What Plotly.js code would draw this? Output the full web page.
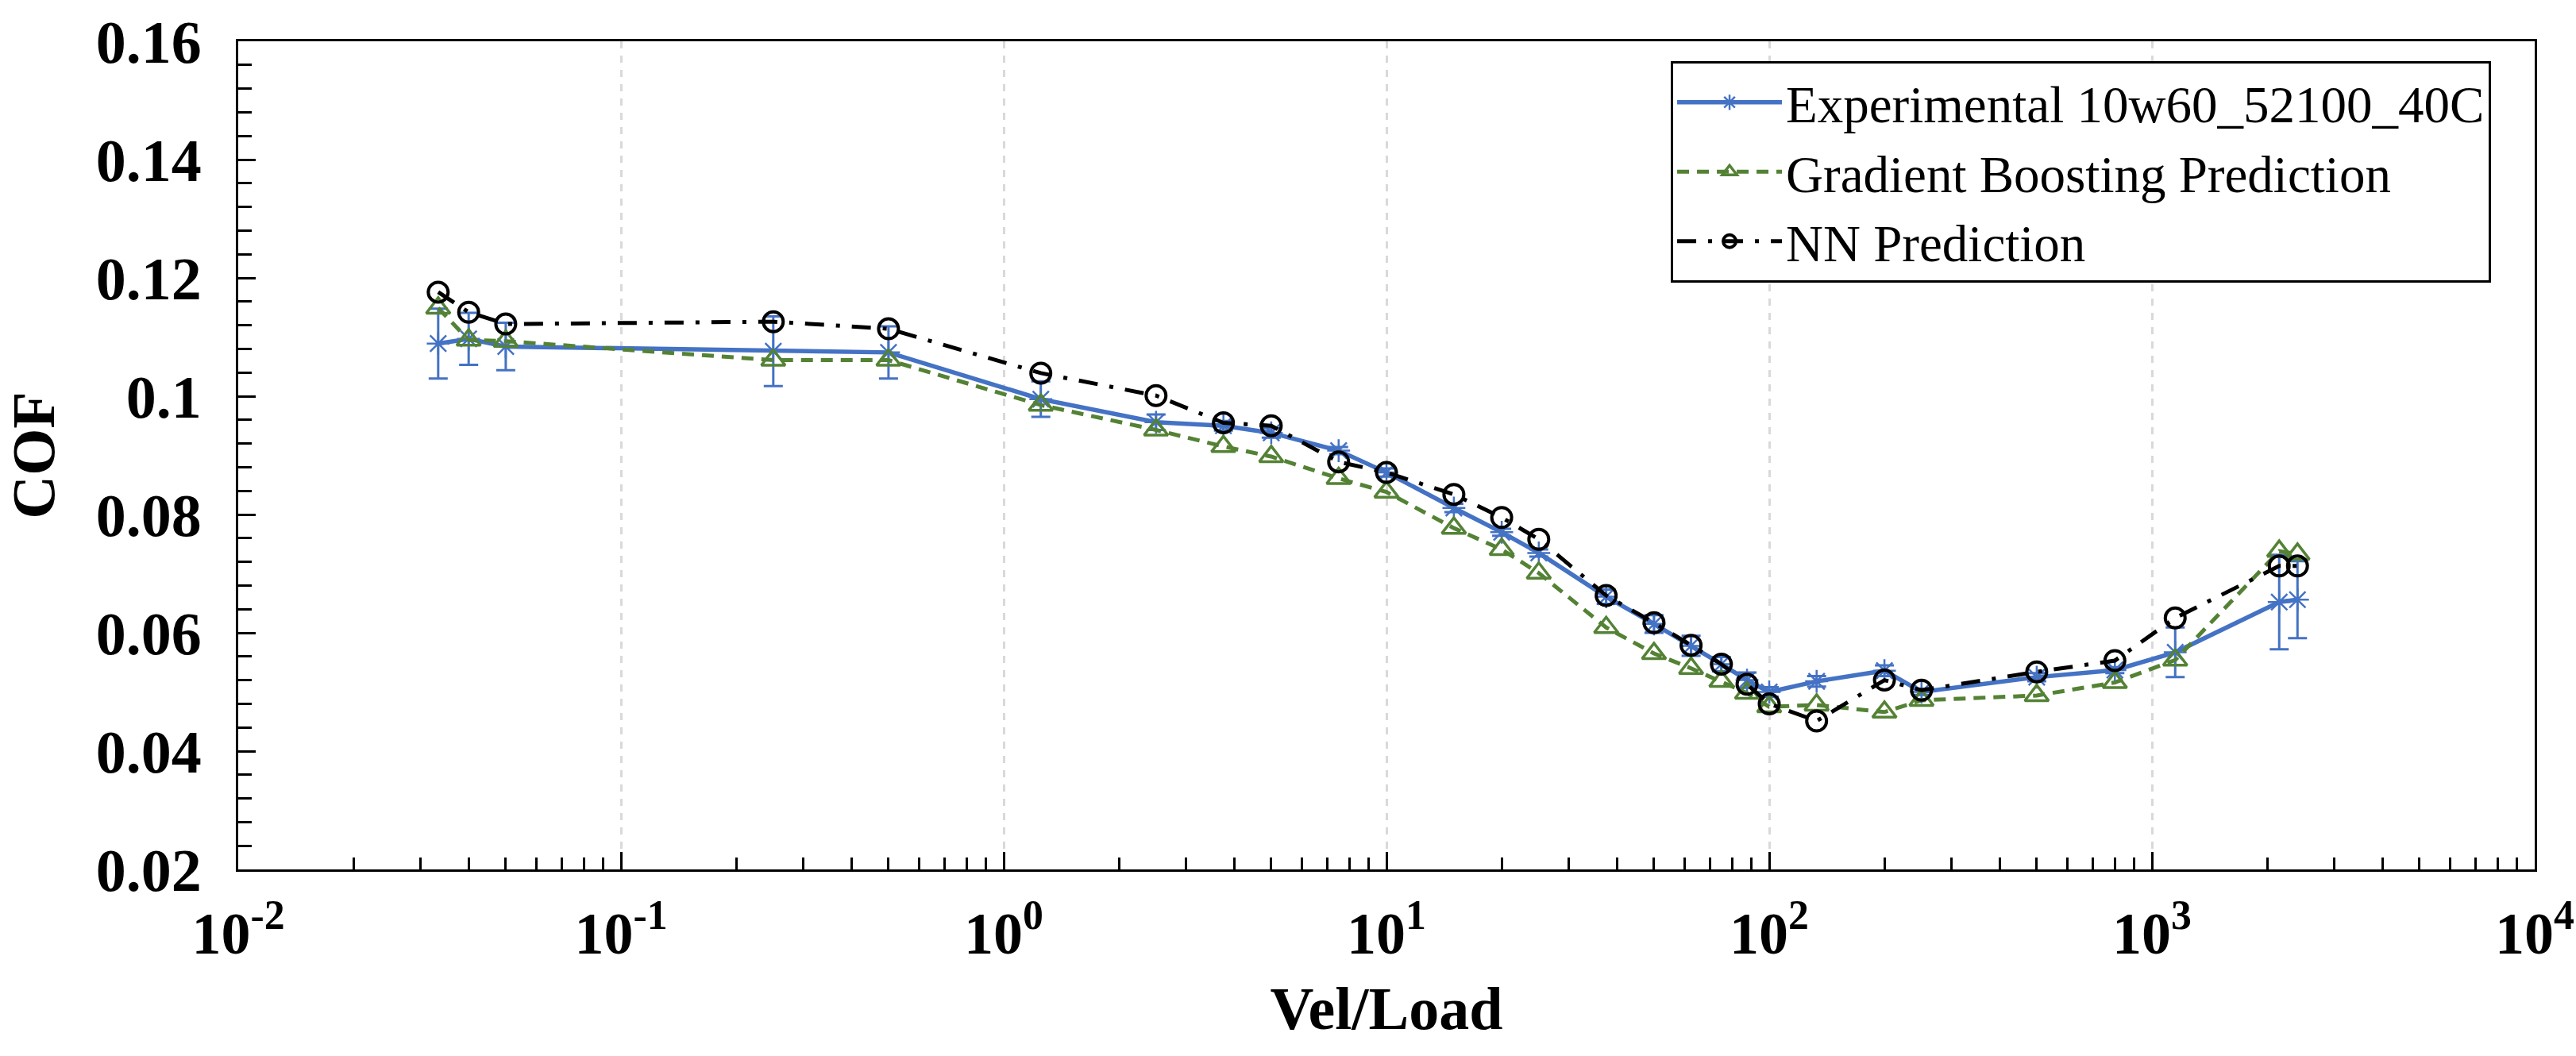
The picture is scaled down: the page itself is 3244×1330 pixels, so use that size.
<!DOCTYPE html>
<html>
<head>
<meta charset="utf-8">
<script src="https://cdn.plot.ly/plotly-3.0.1.min.js"></script>
<style>
  html, body { margin: 0; padding: 0; background: #fff; }
  #chart { width: 3244px; height: 1330px; }
</style>
</head>
<body>
<div id="chart"></div>
<script>
// Vel/Load values (x axis, log)
const velLoad = [0.0333, 0.04, 0.05, 0.25, 0.5, 1.25, 2.5, 3.75, 5, 7.5, 10, 15, 20, 25,
  37.5, 50, 62.5, 75, 87.5, 100, 133, 200, 250, 500, 800, 1150, 2150, 2400];

// measured COF with its error bar
const cofExperimental = [0.1089, 0.1097, 0.1084, 0.1076, 0.1074, 0.0995, 0.0956, 0.0950, 0.0938,
  0.0908, 0.0871, 0.0811, 0.0770, 0.0735, 0.0661, 0.0615, 0.0578, 0.0547, 0.0520, 0.0500,
  0.0518, 0.0536, 0.0500, 0.0525, 0.0537, 0.0567, 0.0652, 0.0656];
const cofError = [0.0059, 0.0044, 0.0040, 0.0059, 0.0044, 0.0030, 0.0013, 0.0008, 0.0008,
  0.0006, 0.0007, 0.0007, 0.0006, 0.0006, 0.0012, 0.0015, 0.0017, 0.0012, 0.0013, 0.0008,
  0.0009, 0.0009, 0.0005, 0.0007, 0.0005, 0.0042, 0.0080, 0.0065];

// model predictions
const cofGradBoost = [0.1149, 0.1095, 0.1093, 0.1061, 0.1061, 0.0985, 0.0943, 0.0915, 0.0898,
  0.0861, 0.0838, 0.0777, 0.0741, 0.0701, 0.0609, 0.0565, 0.0540, 0.0518, 0.0498, 0.0475,
  0.0478, 0.0466, 0.0486, 0.0494, 0.0516, 0.0554, 0.0738, 0.0733];
const cofNN = [0.1176, 0.1142, 0.1122, 0.1126, 0.1114, 0.1039, 0.1001, 0.0955, 0.0950,
  0.0889, 0.0871, 0.0834, 0.0795, 0.0758, 0.0663, 0.0617, 0.0579, 0.0547, 0.0513, 0.0480,
  0.0451, 0.0520, 0.0503, 0.0534, 0.0553, 0.0625, 0.0713, 0.0713];

const xTickVals = [0.01, 0.1, 1, 10, 100, 1000, 10000];
const xTickText = ['10<sup>-2</sup>', '10<sup>-1</sup>', '10<sup>0</sup>', '10<sup>1</sup>',
  '10<sup>2</sup>', '10<sup>3</sup>', '10<sup>4</sup>'];
const yTickVals = [0.02, 0.04, 0.06, 0.08, 0.1, 0.12, 0.14, 0.16];

const serif = 'Liberation Serif, DejaVu Serif, serif';

const traces = [
  {
    x: velLoad, y: cofExperimental, name: 'Experimental 10w60_52100_40C',
    type: 'scatter', mode: 'lines+markers',
    line: { color: '#4472C4', width: 5.5 },
    marker: { symbol: 'asterisk-open', size: 24, color: '#4472C4', line: { color: '#4472C4', width: 2.5 } },
    error_y: { type: 'data', array: cofError, visible: true, color: '#4472C4', thickness: 3, width: 12 }
  },
  {
    x: velLoad, y: cofGradBoost, name: 'Gradient Boosting Prediction',
    type: 'scatter', mode: 'lines+markers',
    line: { color: '#548235', width: 5, dash: '15px,10px' },
    marker: { symbol: 'triangle-up-open', size: 26, color: '#548235', line: { color: '#548235', width: 3.5 } }
  },
  {
    x: velLoad, y: cofNN, name: 'NN Prediction',
    type: 'scatter', mode: 'lines+markers',
    line: { color: '#000000', width: 5, dash: '24px,15px,5px,15px' },
    marker: { symbol: 'circle-open', size: 25, color: '#000000', line: { color: '#000000', width: 4 } }
  }
];

const layout = {
  width: 3244,
  height: 1330,
  margin: { l: 300, r: 52, t: 52, b: 235 },
  paper_bgcolor: '#ffffff',
  plot_bgcolor: '#ffffff',
  font: { family: serif, color: '#000000' },
  showlegend: true,
  legend: {
    x: 0.981, xanchor: 'right', y: 0.976, yanchor: 'top',
    bgcolor: '#ffffff', bordercolor: '#000000', borderwidth: 3,
    font: { family: serif, size: 65, color: '#000000' },
    itemwidth: 132, tracegroupgap: 0
  },
  xaxis: {
    type: 'log',
    range: [-2, 4],
    tickvals: xTickVals,
    ticktext: xTickText,
    tickfont: { family: serif, size: 74, color: '#000000', weight: 'bold' },
    ticks: 'inside', ticklen: 22, tickwidth: 3, tickcolor: '#000000',
    minor: { ticks: 'inside', ticklen: 15, tickwidth: 3, tickcolor: '#000000', dtick: 'D1', showgrid: false },
    showline: true, linecolor: '#000000', linewidth: 3, mirror: true,
    showgrid: true, gridcolor: '#d9d9d9', gridwidth: 3, griddash: 'dash',
    zeroline: false,
    ticklabelstandoff: 14,
    title: { text: '<b>Vel/Load</b>', font: { family: serif, size: 76, color: '#000000' }, standoff: 28 }
  },
  yaxis: {
    range: [0.02, 0.16],
    tickvals: yTickVals,
    tickfont: { family: serif, size: 76, color: '#000000', weight: 'bold' },
    ticks: 'inside', ticklen: 22, tickwidth: 3, tickcolor: '#000000',
    minor: { ticks: 'inside', ticklen: 17, tickwidth: 3, tickcolor: '#000000', dtick: 0.004, showgrid: false },
    showline: true, linecolor: '#000000', linewidth: 3, mirror: true,
    showgrid: false, zeroline: false,
    ticklabelstandoff: 28,
    title: { text: '<b>COF</b>', font: { family: serif, size: 76, color: '#000000' }, standoff: 30 }
  }
};

Plotly.newPlot('chart', traces, layout, { displayModeBar: false, staticPlot: true });
</script>
</body>
</html>
